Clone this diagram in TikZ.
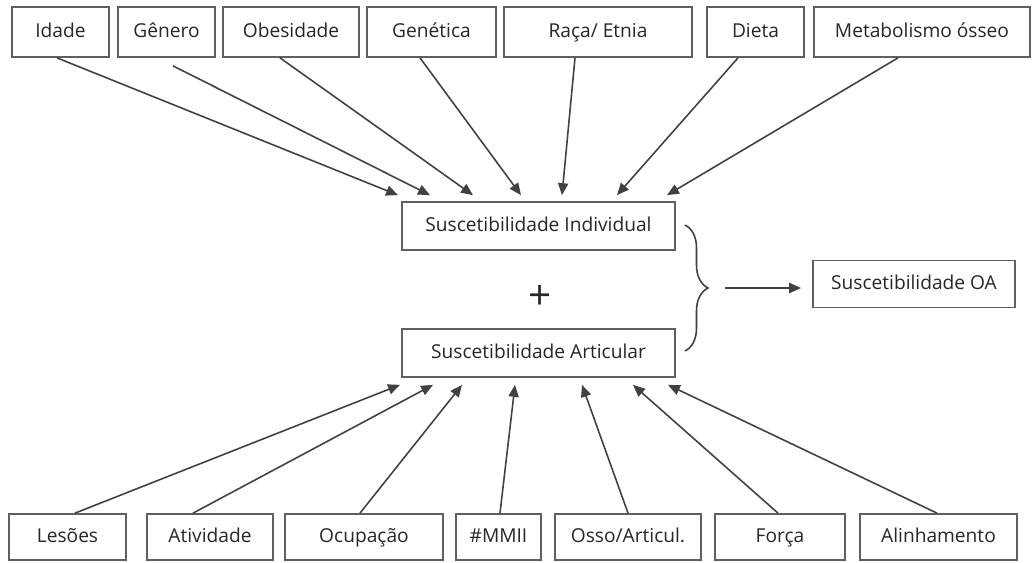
\documentclass[tikz,border=0pt]{standalone}
\usepackage{fontspec}
\setmainfont{Open Sans}
\usetikzlibrary{arrows.meta,calc,decorations.pathreplacing}
\definecolor{borda}{RGB}{95,95,95}
\definecolor{linha}{RGB}{65,65,65}
\tikzset{
  caixa/.style={draw=borda, line width=1pt, inner sep=0pt, text=black!85,
    text height=0.8em, text depth=0.14em, font=\fontsize{10.9}{12}\selectfont},
  seta/.style={draw=linha, line width=0.9pt, -{Triangle[length=6.8pt,width=5.8pt]}}
}
\begin{document}
\begin{tikzpicture}[x=0.02cm, y=-0.02cm]
\useasboundingbox (0,0) rectangle (1035,562);
\node[caixa, minimum width=1.94cm, minimum height=1cm] (idade) at (60.5,32) {Idade};
\node[caixa, minimum width=1.94cm, minimum height=1cm] (genero) at (166.5,32) {Gênero};
\node[caixa, minimum width=2.72cm, minimum height=1cm] (obesidade) at (291,32) {Obesidade};
\node[caixa, minimum width=2.58cm, minimum height=1cm] (genetica) at (431.5,32) {Genética};
\node[caixa, minimum width=3.76cm, minimum height=1cm] (raca) at (598,32) {Raça/ Etnia};
\node[caixa, minimum width=1.94cm, minimum height=1cm] (dieta) at (755.5,32) {Dieta};
\node[caixa, minimum width=4.32cm, minimum height=1cm] (metab) at (922,32) {Metabolismo ósseo};
\node[caixa, minimum width=5.46cm, minimum height=0.96cm] (indiv) at (538.5,226) {Suscetibilidade Individual};
\node[font=\fontsize{23}{24}\selectfont, text=black!85, inner sep=0pt] (mais) at (540,297) {+};
\node[caixa, minimum width=5.46cm, minimum height=0.96cm] (artic) at (538.5,353) {Suscetibilidade Articular};
\node[caixa, minimum width=4.04cm, minimum height=0.94cm] (oa) at (914,284) {Suscetibilidade OA};
\node[caixa, minimum width=2.34cm, minimum height=0.92cm] (lesoes) at (67.5,537) {Lesões};
\node[caixa, minimum width=2.52cm, minimum height=0.92cm] (atividade) at (210,537) {Atividade};
\node[caixa, minimum width=3.16cm, minimum height=0.92cm] (ocupacao) at (364,537) {Ocupação};
\node[caixa, minimum width=1.7cm, minimum height=0.92cm] (mmii) at (498.5,537) {\#MMII};
\node[caixa, minimum width=2.92cm, minimum height=0.92cm] (osso) at (628,537) {Osso/Articul.};
\node[caixa, minimum width=2.6cm, minimum height=0.92cm] (forca) at (780,537) {Força};
\node[caixa, minimum width=3.14cm, minimum height=0.92cm] (alinhamento) at (938.5,537) {Alinhamento};
\coordinate (ch1) at (685,225);
\coordinate (ch2) at (685,351);
\coordinate (ponta) at (725,288);
\foreach \n/\dx/\dy/\ox in {idade/-3.5/0/-140.5, genero/6.5/8/-108.5, obesidade/-11/0/-65.5,
    genetica/-11.5/0/-17.5, raca/-23/0/23.5, dieta/-17.5/0/78.5, metab/-24/0/128.5}
  \draw[seta] ($(\n.south)+(\dx,\dy)$) -- ($(indiv.north)+(\ox,-6)$);
\foreach \n/\dx/\ox in {lesoes/7.5/-138.5, atividade/-17/-105.5, ocupacao/-4/-76.5,
    mmii/1.5/-23.5, osso/0/43.5, forca/-2/94.5, alinhamento/-1.5/129.5}
  \draw[seta] ($(\n.north)+(\dx,0)$) -- ($(artic.south)+(\ox,7)$);
\draw[draw=linha, line width=0.9pt, decorate, decoration={brace, amplitude=0.46cm}] (ch1) -- (ch2);
\draw[seta, shorten >=0.22cm] (ponta) -- (oa.west |- ponta);
\end{tikzpicture}
\end{document}
